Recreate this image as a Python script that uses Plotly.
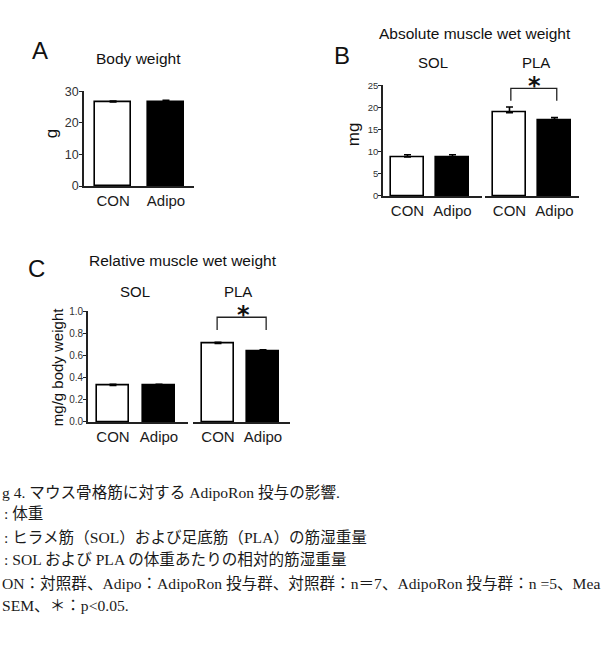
import plotly.graph_objects as go

W, H = 606, 658

# ---------------- data ----------------
groups = ["CON", "Adipo"]
bar_fills = ["white", "black"]

body_weight = [26.6, 26.6]
body_weight_sem = [0.3, 0.5]

sol_abs = [8.8, 8.8]
sol_abs_sem = [0.5, 0.5]
pla_abs = [18.8, 17.0]
pla_abs_sem = [1.3, 0.7]

sol_rel = [0.33, 0.33]
sol_rel_sem = [0.01, 0.01]
pla_rel = [0.71, 0.635]
pla_rel_sem = [0.01, 0.018]

caption_lines = [
    "g 4. マウス骨格筋に対する AdipoRon 投与の影響.",
    ": 体重",
    ": ヒラメ筋（SOL）および足底筋（PLA）の筋湿重量",
    ": SOL および PLA の体重あたりの相対的筋湿重量",
    "ON：対照群、Adipo：AdipoRon 投与群、対照群：n＝7、AdipoRon 投与群：n =5、Mea",
    "SEM、＊：p<0.05.",
]

SANS = "Arial, Liberation Sans, sans-serif"
SERIF = "Liberation Serif, Times New Roman, Noto Sans CJK JP, serif"


def px(x):
    return x / W


def py(y):
    return 1 - y / H


fig = go.Figure()


def add_bars(x, y, sem, xa, ya, width):
    fig.add_trace(go.Bar(
        x=x, y=y, xaxis=xa, yaxis=ya, width=width,
        marker=dict(color=bar_fills, line=dict(color="black", width=1.6)),
        error_y=dict(type="data", array=sem, arrayminus=[0] * len(sem),
                     symmetric=False, color="black", thickness=1.6, width=3.5),
        showlegend=False, hoverinfo="x+y",
    ))


add_bars(groups, body_weight, body_weight_sem, "x", "y", 0.68)
add_bars(groups, sol_abs, sol_abs_sem, "x2", "y2", 0.73)
add_bars(groups, pla_abs, pla_abs_sem, "x3", "y2", 0.73)
add_bars(groups, sol_rel, sol_rel_sem, "x4", "y3", 0.70)
add_bars(groups, pla_rel, pla_rel_sem, "x5", "y3", 0.70)

line_col = "#222"
xcommon = dict(type="category", showline=True, linecolor=line_col, linewidth=1.6,
               ticks="", ticklen=0, showgrid=False, zeroline=False, fixedrange=True,
               tickfont=dict(family=SANS, size=15, color="#1a1a1a"), ticklabelstandoff=0)
ycommon = dict(showline=True, linecolor=line_col, linewidth=1.6, ticks="outside",
               ticklen=3, tickcolor=line_col, tickwidth=1.2, showgrid=False,
               zeroline=False, fixedrange=True, ticklabelstandoff=-2)

fig.update_layout(
    width=W, height=H, margin=dict(l=0, r=0, t=0, b=0),
    paper_bgcolor="white", plot_bgcolor="white", bargap=0,
    xaxis=dict(xcommon, domain=[px(84), px(194)], anchor="y", range=[-0.55, 1.53]),
    yaxis=dict(ycommon, domain=[py(183), py(86)], anchor="x", range=[0, 30], dtick=10,
               tickfont=dict(family=SANS, size=12.5, color="#333")),
    xaxis2=dict(xcommon, domain=[px(383), px(482)], anchor="y2", range=[-0.544, 1.656]),
    xaxis3=dict(xcommon, domain=[px(485), px(579)], anchor="y2", range=[-0.544, 1.544]),
    yaxis2=dict(ycommon, domain=[py(193), py(80)], anchor="x2", range=[0, 25], dtick=5,
                tickfont=dict(family=SANS, size=9.5, color="#333")),
    xaxis4=dict(xcommon, domain=[px(88), px(188)], anchor="y3", range=[-0.543, 1.63]),
    xaxis5=dict(xcommon, domain=[px(193), px(290)], anchor="y3", range=[-0.556, 1.6]),
    yaxis3=dict(ycommon, domain=[py(424), py(311)], anchor="x4", range=[0, 1], dtick=0.2,
                tickformat=".1f", tickfont=dict(family=SANS, size=10, color="#333")),
)

ann = []


def txt(x, y, s, size, family=SANS, angle=0, xanchor="center", color="#111", weight=None):
    f = dict(family=family, size=size, color=color)
    if weight:
        f["weight"] = weight
    ann.append(dict(x=px(x), y=py(y), xref="paper", yref="paper", text=s,
                    showarrow=False, textangle=angle, xanchor=xanchor, yanchor="middle",
                    font=f))


# panel letters
txt(40, 44, "A", 24)
txt(342, 50, "B", 24)
txt(36, 267, "C", 24)
# titles
txt(138, 53, "Body weight", 15.5)
txt(475, 27, "Absolute muscle wet weight", 15.5)
txt(183, 259, "Relative muscle wet weight", 15.5)
txt(433, 57, "SOL", 15)
txt(536, 57, "PLA", 15)
txt(135, 291, "SOL", 15)
txt(238, 291, "PLA", 15)
# y titles
txt(51, 130, "g", 17, angle=-90)
txt(353, 130, "mg", 17, angle=-90)
txt(57, 368, "mg/g body weight", 15, angle=-90)

# significance asterisks
txt(534, 80.5, "*", 24, family="DejaVu Sans", weight="bold")
txt(243, 314.5, "*", 24, family="DejaVu Sans", weight="bold")

# caption
cap_y = [496, 518, 542, 565, 589, 612]
cap_x = [0, 2, 2, 2, 0, 0]
for s, cx, cy in zip(caption_lines, cap_x, cap_y):
    txt(cx, cy, s, 15.6, family=SERIF, xanchor="left", color="#1a1a1a")

fig.update_layout(annotations=ann)

# significance brackets
br = dict(color="#222", width=1.3)
fig.add_shape(type="path", xref="x3", yref="y2",
              path="M 0.03 21.5 L 0.03 24.3 L 1.05 24.3 L 1.05 21.5", line=br)
fig.add_shape(type="path", xref="x5", yref="y3",
              path="M -0.02 0.832 L -0.02 0.947 L 1.07 0.947 L 1.07 0.832", line=br)

fig.write_html("out.html")
